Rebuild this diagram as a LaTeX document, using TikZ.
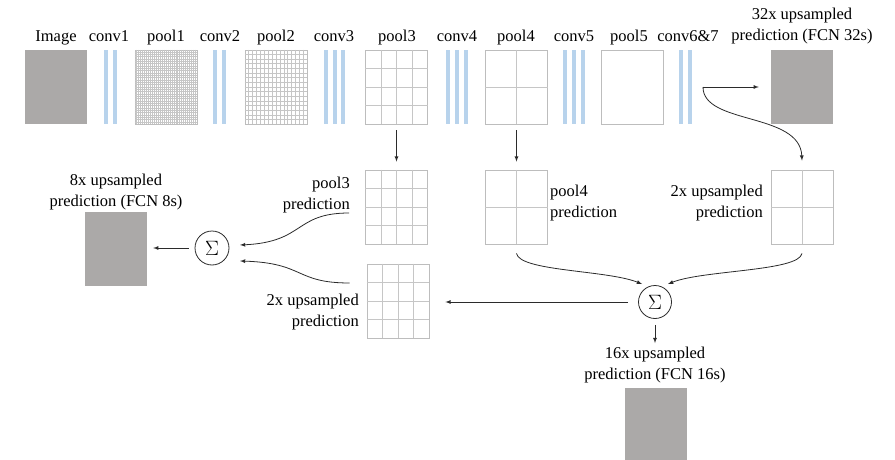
\documentclass[tikz,border=0pt]{standalone}
\usepackage{fontspec}
\setmainfont{Liberation Serif}
\usetikzlibrary{calc}
\definecolor{mapgray}{HTML}{ABA9A8}
\definecolor{convblue}{HTML}{B8D3EC}
\definecolor{gridgray}{HTML}{C6C6C6}
\definecolor{boxgray}{HTML}{BDBDBD}
\definecolor{linegray}{HTML}{2B2B2B}
% grid lines inside a feature map node: name, columns, rows
\newcommand{\mapgrid}[3]{%
  \pgfmathtruncatemacro\lastcol{#2-1}%
  \pgfmathtruncatemacro\lastrow{#3-1}%
  \foreach \k in {1,...,\lastcol}
    \draw[gridline] ($(#1.north west)!\k/#2!(#1.north east)$) -- ($(#1.south west)!\k/#2!(#1.south east)$);
  \foreach \k in {1,...,\lastrow}
    \draw[gridline] ($(#1.north west)!\k/#3!(#1.south west)$) -- ($(#1.north east)!\k/#3!(#1.south east)$);
}
\begin{document}
\begin{tikzpicture}[x=1pt, y=-1pt, >=latex,
  every node/.style={font=\fontsize{16.5}{20.5}\selectfont, inner sep=0pt},
  fmap/.style={draw=boxgray, line width=0.8pt, minimum width=62pt, minimum height=74pt},
  pred/.style={fill=mapgray, minimum width=62pt, minimum height=74pt},
  convbar/.style={fill=convblue, minimum width=4.5pt, minimum height=74pt},
  gridline/.style={draw=gridgray, line width=0.6pt},
  sumnode/.style={circle, draw=linegray, line width=0.8pt, minimum size=34pt,
    font=\fontsize{21}{22}\selectfont},
  flow/.style={->, draw=linegray, line width=0.8pt}]
\useasboundingbox (0,0) rectangle (895,460);

% top row
\node[pred] (image) at (56, 87) {};
\node[fmap] (pool1) at (166, 87) {};
\node[fmap] (pool2) at (276, 87) {};
\node[fmap] (pool3) at (396.5, 87) {};
\node[fmap] (pool4) at (516.5, 87) {};
\node[fmap] (pool5) at (632, 87) {};
\node[pred] (out32) at (802, 87) {};
\mapgrid{pool1}{32}{32}
\mapgrid{pool2}{16}{16}
\mapgrid{pool3}{4}{4}
\mapgrid{pool4}{2}{2}

\foreach \x/\n in {106/c1a, 115/c1b, 215/c2a, 224/c2b, 326/c3a, 335/c3b, 343/c3c,
  448/c4a, 457/c4b, 466/c4c, 565/c5a, 574/c5b, 583/c5c, 681/c6a, 690/c6b}
  \node[convbar] (\n) at (\x, 87) {};

\node[anchor=base] (limage) at (56, 42) {Image};
\node[anchor=base] (lconv1) at (109, 42) {conv1};
\node[anchor=base] (lpool1) at (166, 42) {pool1};
\node[anchor=base] (lconv2) at (220, 42) {conv2};
\node[anchor=base] (lpool2) at (276, 42) {pool2};
\node[anchor=base] (lconv3) at (334, 42) {conv3};
\node[anchor=base] (lpool3) at (397, 42) {pool3};
\node[anchor=base] (lconv4) at (457, 42) {conv4};
\node[anchor=base] (lpool4) at (516, 42) {pool4};
\node[anchor=base] (lconv5) at (574, 42) {conv5};
\node[anchor=base] (lpool5) at (629, 42) {pool5};
\node[anchor=base] (lconv6) at (688, 42) {conv6\&7};
\node[align=center] (l32x) at (802, 26) {32x upsampled\\prediction (FCN 32s)};

% middle row
\node[fmap] (p3pred) at (396.5, 207) {};
\node[fmap] (up2a) at (398, 301) {};
\node[fmap] (p4pred) at (516.5, 207) {};
\node[fmap] (up2b) at (802, 207) {};
\mapgrid{p3pred}{4}{4}
\mapgrid{up2a}{4}{4}
\mapgrid{p4pred}{2}{2}
\mapgrid{up2b}{2}{2}

\node[pred] (out8) at (116, 249) {};
\node[pred] (out16) at (656, 425) {};
\node[sumnode] (sum1) at (212, 248) {$\Sigma$};
\node[sumnode, minimum size=33pt] (sum2) at (655, 302) {$\Sigma$};

\node[align=right, anchor=east] (lp3) at (350, 195) {pool3\\prediction};
\node[align=center] (l8x) at (116, 192) {8x upsampled\\prediction (FCN 8s)};
\node[align=right, anchor=east] (lup2a) at (359, 312) {2x upsampled\\prediction};
\node[align=left, anchor=west] (lp4) at (550, 203) {pool4\\prediction};
\node[align=right, anchor=east] (lup2b) at (763, 203) {2x upsampled\\prediction};
\node[align=center] (l16x) at (655, 365) {16x upsampled\\prediction (FCN 16s)};

% connectors
\coordinate (fork) at (703, 87);
\draw[flow, shorten >=12pt] (fork) -- (fork -| out32.west);
\draw[flow] (fork) .. controls (703, 125) and (800, 112) .. ([yshift=9pt]up2b.north);
\draw[flow, shorten <=6pt, shorten >=8pt] (pool3.south) -- (pool3.south |- p3pred.north);
\draw[flow, shorten <=6pt, shorten >=8pt] (pool4.south) -- (pool4.south |- p4pred.north);
\draw[flow] ($(p3pred.west)+(-16,6)$) .. controls +(-55,0) and +(65,-3) .. ($(sum1)+(28,-3)$);
\draw[flow] ($(up2a.west)+(-17,-18)$) .. controls +(-55,0) and +(65,2) .. ($(sum1)+(28,13)$);
\draw[flow, shorten <=6pt, shorten >=6pt] (sum1) -- (out8.east |- sum1);
\draw[flow] ([yshift=-9pt]p4pred.south) .. controls +(3,18) and +(-35,-14) .. ($(sum2)+(-13,-18)$);
\draw[flow] ([yshift=-9pt]up2b.south) .. controls +(-3,18) and +(35,-14) .. ($(sum2)+(13,-18)$);
\draw[flow, shorten <=10pt, shorten >=16pt] (sum2) -- (up2a.east |- sum2);
\draw[flow, shorten <=6pt, shorten >=4pt] (sum2) -- (l16x);
\end{tikzpicture}
\end{document}
